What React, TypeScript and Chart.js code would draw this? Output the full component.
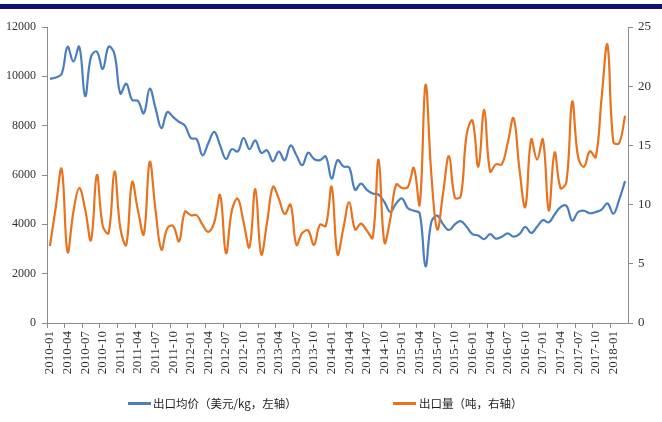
import React, { useEffect, useRef } from "react";
import { Chart, registerables } from "chart.js";

Chart.register(...registerables);

// Categories: monthly, 2010-01 .. 2018-03
const firstYear = 2010;
const monthCount = 99;
const months: string[] = [];
for (let i = 0; i < monthCount; i++) {
  const y = firstYear + Math.floor(i / 12);
  const m = (i % 12) + 1;
  months.push(`${y}-${m < 10 ? "0" + m : m}`);
}

const priceLabel = "出口均价（美元/kg，左轴）";
const volumeLabel = "出口量（吨，右轴）";

// 出口均价 (left axis)
const price: number[] = [
  9900, 9950, 10100, 11200, 10600, 11200, 9200, 10800, 11000, 10300,
  11200, 10900, 9300, 9700, 9050, 9000, 8500, 9500, 8700, 7900,
  8550, 8350, 8150, 8000, 7500, 7450, 6800, 7300, 7750, 7200,
  6650, 7050, 6950, 7500, 7050, 7400, 6900, 7000, 6550, 6950,
  6600, 7200, 6800, 6400, 6900, 6650, 6600, 6750, 5850, 6600,
  6350, 6300, 5400, 5650, 5400, 5250, 5200, 4900, 4500, 4850,
  5050, 4650, 4550, 4450, 2300, 4100, 4350, 4000, 3770, 4000,
  4130, 3900, 3600, 3550, 3400, 3600, 3420, 3500, 3630, 3500,
  3600, 3900, 3650, 3900, 4170, 4080, 4400, 4700, 4750, 4150,
  4500, 4550, 4450, 4500, 4600, 4850, 4430, 5000, 5750,
];

// 出口量 (right axis)
const volume: number[] = [
  6.5, 9.8, 13.0, 6.0, 9.4, 11.4, 9.6, 7.0, 12.5, 8.2,
  7.6, 12.8, 8.0, 6.6, 11.9, 9.5, 7.5, 13.6, 9.5, 6.2,
  8.0, 8.2, 6.9, 9.4, 9.1, 9.1, 8.3, 7.7, 8.5, 10.8,
  5.9, 9.5, 10.5, 8.5, 6.4, 11.3, 5.8, 8.5, 11.5, 10.5,
  9.2, 10.0, 6.6, 7.6, 7.8, 6.6, 8.3, 8.2, 11.5, 5.8,
  8.0, 10.2, 7.9, 8.4, 7.8, 7.2, 13.8, 6.8, 8.8, 11.7,
  11.4, 11.5, 13.1, 10.0, 20.1, 12.5, 7.9, 11.0, 14.1, 10.6,
  10.7, 15.9, 17.1, 13.2, 18.0, 12.8, 13.4, 13.4, 15.2, 17.3,
  13.0, 9.8, 15.5, 13.8, 15.5, 9.5, 14.4, 11.4, 11.9, 18.7,
  14.0, 13.2, 14.5, 14.0, 19.0, 23.5, 15.3, 15.2, 17.5,
];

const leftTicks = { min: 0, max: 12000, step: 2000 };
const rightTicks = { min: 0, max: 25, step: 5 };

const BLUE = "#4A7EBF";
const ORANGE = "#E8731E";
const AXIS = "#8C8C8C";
const TEXT = "#333333";
const SERIF = "'Liberation Serif', 'Times New Roman', serif";

export default function App() {
  const canvasRef = useRef<HTMLCanvasElement | null>(null);

  useEffect(() => {
    const canvas = canvasRef.current;
    if (!canvas) return;
    const chart = new Chart(canvas, {
      type: "line",
      data: {
        labels: months,
        datasets: [
          {
            label: priceLabel,
            data: price,
            borderColor: BLUE,
            backgroundColor: BLUE,
            borderWidth: 2.2,
            pointRadius: 0,
            tension: 0.4,
            fill: false,
            yAxisID: "y",
            order: 1,
          },
          {
            label: volumeLabel,
            data: volume,
            borderColor: ORANGE,
            backgroundColor: ORANGE,
            borderWidth: 2.2,
            pointRadius: 0,
            tension: 0.4,
            fill: false,
            yAxisID: "y1",
            order: 0,
          },
        ],
      },
      options: {
        responsive: false,
        animation: false,
        devicePixelRatio: 1,
        layout: { padding: { top: 27, left: 0, right: 0, bottom: 0 } },
        plugins: { legend: { display: false }, tooltip: { enabled: false } },
        scales: {
          x: {
            type: "category",
            offset: true,
            grid: {
              offset: true,
              drawOnChartArea: false,
              drawTicks: true,
              tickLength: 5,
              color: (ctx: any) => (ctx.index !== undefined && ctx.index % 3 === 0 ? AXIS : "rgba(0,0,0,0)"),
              tickColor: (ctx: any) => (ctx.index !== undefined && ctx.index % 3 === 0 ? AXIS : "rgba(0,0,0,0)"),
            },
            border: { display: true, color: AXIS, width: 1 },
            ticks: {
              autoSkip: false,
              minRotation: 90,
              maxRotation: 90,
              padding: 3,
              color: TEXT,
              font: { family: SERIF, size: 13 },
              callback: (_v: any, idx: number) => (idx % 3 === 0 ? months[idx] : ""),
            },
            afterFit: (s: any) => {
              s.height = 99;
            },
          },
          y: {
            position: "left",
            min: leftTicks.min,
            max: leftTicks.max,
            grid: { drawOnChartArea: false, drawTicks: true, tickLength: 5, color: AXIS },
            border: { display: true, color: AXIS, width: 1 },
            ticks: {
              stepSize: leftTicks.step,
              padding: 6,
              color: TEXT,
              font: { family: SERIF, size: 12 },
              callback: (v: any) => String(v),
            },
            afterFit: (s: any) => {
              s.width = 47;
            },
          },
          y1: {
            position: "right",
            min: rightTicks.min,
            max: rightTicks.max,
            grid: { drawOnChartArea: false, drawTicks: true, tickLength: 5, color: AXIS },
            border: { display: true, color: AXIS, width: 1 },
            ticks: {
              stepSize: rightTicks.step,
              padding: 5,
              color: TEXT,
              font: { family: SERIF, size: 13 },
              callback: (v: any) => String(v),
            },
            afterFit: (s: any) => {
              s.width = 34;
            },
          },
        },
      },
    });
    return () => chart.destroy();
  }, []);

  const legendText: React.CSSProperties = {
    position: "absolute",
    top: 395,
    fontFamily: "'Noto Sans CJK SC', sans-serif",
    fontSize: 11.5,
    lineHeight: "16px",
    color: "#222",
    whiteSpace: "nowrap",
  };

  return (
    <div style={{ position: "absolute", left: 0, top: 0, width: 662, height: 422, background: "#fff", overflow: "hidden" }}>
      <div style={{ position: "absolute", left: 0, top: 4, width: 662, height: 5, background: "#11116E" }} />
      <canvas ref={canvasRef} width={662} height={422} style={{ position: "absolute", left: 0, top: 0, width: 662, height: 422 }} />
      <div style={{ position: "absolute", left: 128, top: 402, width: 23, height: 2.5, background: BLUE }} />
      <div style={{ ...legendText, left: 153 }}>{priceLabel}</div>
      <div style={{ position: "absolute", left: 393, top: 402, width: 23, height: 2.5, background: ORANGE }} />
      <div style={{ ...legendText, left: 419 }}>{volumeLabel}</div>
    </div>
  );
}
